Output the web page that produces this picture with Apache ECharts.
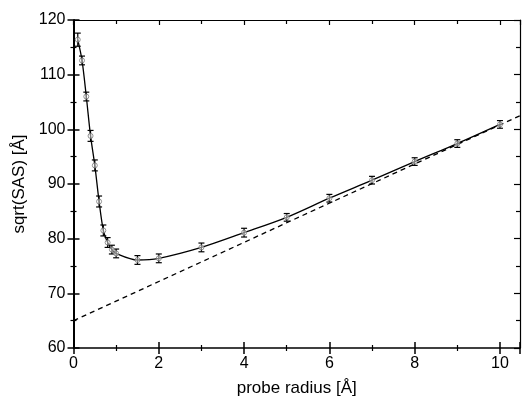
<!DOCTYPE html>
<html>
<head>
<meta charset="utf-8">
<script src="https://cdn.jsdelivr.net/npm/echarts@6/dist/echarts.min.js"></script>
<style>
html,body{margin:0;padding:0;background:#fff;}
#chart{width:523px;height:402px;}
</style>
</head>
<body>
<div id="chart"></div>
<script>
// Data
const probeRadius = [0.1, 0.2, 0.3, 0.4, 0.5, 0.6, 0.7, 0.8, 0.9, 1.0, 1.5, 2, 3, 4, 5, 6, 7, 8, 9, 10];
const sqrtSAS    = [116.4, 112.6, 106.0, 98.8, 93.4, 86.8, 81.5, 79.3, 78.0, 77.3, 76.1, 76.4, 78.4, 81.1, 83.9, 87.4, 90.7, 94.1, 97.4, 100.9];
const errSAS     = [1.2, 0.8, 0.8, 1.0, 1.0, 1.0, 1.0, 0.9, 0.8, 0.8, 0.8, 0.8, 0.8, 0.8, 0.7, 0.7, 0.7, 0.7, 0.7, 0.7];
const asymX = [0, 10.47];
const asymY = [65.0, 102.5];
const xTicks = [0, 2, 4, 6, 8, 10];
const yTicks = [60, 70, 80, 90, 100, 110, 120];

const FONT = 'Liberation Sans, Arial, sans-serif';
const chart = echarts.init(document.getElementById('chart'), null, {renderer: 'canvas'});

const xBase = {type: 'value', min: 0, max: 10.47, interval: 2, splitLine: {show: false}};
const yBase = {type: 'value', min: 60, max: 120, interval: 10, splitLine: {show: false}};

const pts = probeRadius.map((x, i) => [x, sqrtSAS[i]]);
const errs = probeRadius.map((x, i) => [x, sqrtSAS[i] - errSAS[i], sqrtSAS[i] + errSAS[i]]);

chart.setOption({
  animation: false,
  backgroundColor: '#fff',
  grid: {left: 73.5, right: 1.5, top: 20, bottom: 50.3, containLabel: false},
  xAxis: [
    Object.assign({}, xBase, {
      position: 'bottom',
      axisLine: {show: true, onZero: false, lineStyle: {color: '#000', width: 1.5}},
      axisTick: {show: true, inside: false, length: 6, lineStyle: {color: '#000', width: 1.5}},
      minorTick: {show: true, splitNumber: 2, length: 3, lineStyle: {color: '#000', width: 1.2}},
      axisLabel: {show: true, fontSize: 16, color: '#000', fontFamily: FONT, margin: 8,
        formatter: v => xTicks.indexOf(v) >= 0 ? String(v) : ''},
      name: 'probe radius [Å]', nameLocation: 'middle', nameGap: 32,
      nameTextStyle: {fontSize: 17, color: '#000', fontFamily: FONT}
    }),
    Object.assign({}, xBase, {
      position: 'bottom',
      axisLine: {show: false, onZero: false},
      axisTick: {show: true, inside: true, length: 6, lineStyle: {color: '#000', width: 1.5}},
      minorTick: {show: true, splitNumber: 2, length: 3, lineStyle: {color: '#000', width: 1.2}},
      axisLabel: {show: false}
    }),
    Object.assign({}, xBase, {
      position: 'top',
      axisLine: {show: true, onZero: false, lineStyle: {color: '#000', width: 1.2}},
      axisTick: {show: true, inside: true, length: 5, lineStyle: {color: '#000', width: 1.2}},
      minorTick: {show: true, splitNumber: 2, length: 4, lineStyle: {color: '#000', width: 1.2}},
      axisLabel: {show: false}
    })
  ],
  yAxis: [
    Object.assign({}, yBase, {
      position: 'left',
      axisLine: {show: true, onZero: false, lineStyle: {color: '#000', width: 2}},
      axisTick: {show: true, inside: false, length: 6, lineStyle: {color: '#000', width: 1.5}},
      minorTick: {show: true, splitNumber: 2, length: 3, lineStyle: {color: '#000', width: 1.2}},
      axisLabel: {show: true, fontSize: 16, color: '#000', fontFamily: FONT, margin: 8,
        formatter: v => yTicks.indexOf(v) >= 0 ? String(v) : ''},
      name: 'sqrt(SAS) [Å]', nameLocation: 'middle', nameGap: 40, nameRotate: 90,
      nameTextStyle: {fontSize: 17, color: '#000', fontFamily: FONT}
    }),
    Object.assign({}, yBase, {
      position: 'left',
      axisLine: {show: false, onZero: false},
      axisTick: {show: true, inside: true, length: 6, lineStyle: {color: '#000', width: 1.5}},
      minorTick: {show: true, splitNumber: 2, length: 3, lineStyle: {color: '#000', width: 1.2}},
      axisLabel: {show: false}
    }),
    Object.assign({}, yBase, {
      position: 'right',
      axisLine: {show: true, onZero: false, lineStyle: {color: '#000', width: 1.2}},
      axisTick: {show: true, inside: true, length: 6, lineStyle: {color: '#000', width: 1.2}},
      minorTick: {show: true, splitNumber: 2, length: 4, lineStyle: {color: '#000', width: 1.2}},
      axisLabel: {show: false}
    })
  ],
  series: [
    {
      type: 'line', xAxisIndex: 0, yAxisIndex: 0,
      data: asymX.map((x, i) => [x, asymY[i]]),
      showSymbol: false, clip: true,
      lineStyle: {color: '#000', width: 1.3, type: [5, 4]},
      silent: true, z: 2
    },
    {
      type: 'line', xAxisIndex: 0, yAxisIndex: 0,
      data: pts, smooth: 0.3,
      showSymbol: false, clip: true,
      lineStyle: {color: '#000', width: 1.3},
      silent: true, z: 3
    },
    {
      type: 'custom', xAxisIndex: 0, yAxisIndex: 0,
      data: errs,
      renderItem: function (params, api) {
        const x = api.value(0);
        const lo = api.coord([x, api.value(1)]);
        const hi = api.coord([x, api.value(2)]);
        const hw = 3;
        const st = {stroke: '#000', lineWidth: 1.2};
        return {type: 'group', children: [
          {type: 'line', shape: {x1: lo[0], y1: lo[1], x2: hi[0], y2: hi[1]}, style: st},
          {type: 'line', shape: {x1: lo[0] - hw, y1: lo[1], x2: lo[0] + hw, y2: lo[1]}, style: st},
          {type: 'line', shape: {x1: hi[0] - hw, y1: hi[1], x2: hi[0] + hw, y2: hi[1]}, style: st}
        ]};
      },
      silent: true, z: 4
    },
    {
      type: 'scatter', xAxisIndex: 0, yAxisIndex: 0,
      data: pts, symbol: 'circle', symbolSize: 5,
      itemStyle: {color: 'rgba(255,255,255,0.6)', borderColor: '#777', borderWidth: 1},
      silent: true, z: 5
    }
  ]
});
</script>
</body>
</html>
